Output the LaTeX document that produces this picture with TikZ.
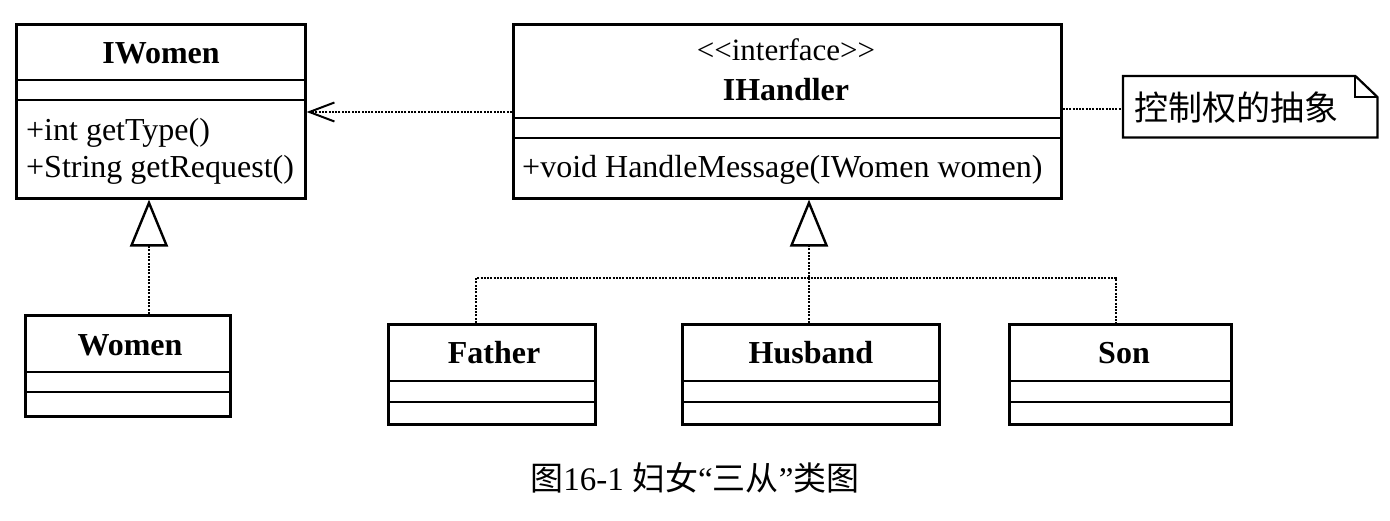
\documentclass[tikz,border=0pt]{standalone}
\usepackage{fontspec}
\setmainfont{Liberation Serif}
\newfontfamily\nolig{Liberation Serif}[Mapping=]
\newfontfamily\cjk{Noto Sans CJK SC}
\usetikzlibrary{arrows.meta}
\begin{document}
\begin{tikzpicture}[x=1pt,y=-1pt,
  cls/.style={draw, line width=2.6pt, inner sep=0pt, anchor=north west},
  divl/.style={line width=2.4pt},
  txt/.style={inner sep=0pt, font=\fontsize{32}{37}\selectfont, anchor=base west},
  cname/.style={inner sep=0pt, font=\fontsize{32}{37}\selectfont\bfseries, anchor=base},
  dep/.style={line width=2pt, dash pattern=on 2pt off 1.3pt},
  real/.style={dep, -{Triangle[open, length=47pt, width=38pt, line width=2.4pt, fill=white]}},
  use/.style={dep, -{Straight Barb[length=25pt, width=19pt, line width=2pt]}},
]
\useasboundingbox (0,0) rectangle (1390,520);
\fill[white] (0,0) rectangle (1390,520);

% IWomen
\node[cls, minimum width=289pt, minimum height=174pt] (iwomen) at (15,23) {};
\draw[divl] (iwomen.west |- 0,80) -- (iwomen.east |- 0,80);
\draw[divl] (iwomen.west |- 0,100) -- (iwomen.east |- 0,100);
\node[cname] (iwomenN) at (161,63) {IWomen};
\node[txt] (iwm1) at (26,140) {+int getType()};
\node[txt] (iwm2) at (26,177) {+String getRequest()};

% IHandler
\node[cls, minimum width=548pt, minimum height=174pt] (ihandler) at (512,23) {};
\draw[divl] (ihandler.west |- 0,118) -- (ihandler.east |- 0,118);
\draw[divl] (ihandler.west |- 0,138) -- (ihandler.east |- 0,138);
\node[inner sep=0pt, font=\nolig\fontsize{31}{37}\selectfont, anchor=base] (stereo) at (786,60) {<\kern0pt<interface>\kern0pt>};
\node[cname] (ihN) at (786,100) {IHandler};
\node[txt] (ihm) at (522,177) {+void HandleMessage(IWomen women)};

% Women
\node[cls, minimum width=205pt, minimum height=101pt] (women) at (24,314) {};
\draw[divl] (women.west |- 0,372) -- (women.east |- 0,372);
\draw[divl] (women.west |- 0,392) -- (women.east |- 0,392);
\node[cname] (womenN) at (130,355) {Women};

% Father
\node[cls, minimum width=207pt, minimum height=100pt] (father) at (387,323) {};
\draw[divl] (father.west |- 0,381) -- (father.east |- 0,381);
\draw[divl] (father.west |- 0,402) -- (father.east |- 0,402);
\node[cname] (fatherN) at (494,363) {Father};

% Husband
\node[cls, minimum width=257pt, minimum height=100pt] (husband) at (681,323) {};
\draw[divl] (husband.west |- 0,381) -- (husband.east |- 0,381);
\draw[divl] (husband.west |- 0,402) -- (husband.east |- 0,402);
\node[cname] (husbandN) at (811,363) {Husband};

% Son
\node[cls, minimum width=222pt, minimum height=100pt] (son) at (1008,323) {};
\draw[divl] (son.west |- 0,381) -- (son.east |- 0,381);
\draw[divl] (son.west |- 0,402) -- (son.east |- 0,402);
\node[cname] (sonN) at (1124,363) {Son};

% Note
\node[inner sep=0pt, minimum width=254pt, minimum height=61pt, anchor=north west] (note) at (1123,76) {};
\draw[line width=2.2pt, line join=miter]
  (note.north west) -- ([xshift=-22pt]note.north east) -- ([yshift=-21pt]note.north east)
  -- (note.south east) -- (note.south west) -- cycle;
\draw[line width=2pt] ([xshift=-22pt]note.north east) -- ([xshift=-22pt,yshift=-21pt]note.north east)
  -- ([yshift=-21pt]note.north east);
\node[inner sep=0pt, anchor=west, font=\cjk\fontsize{34}{40}\selectfont] (notetext) at (1134,108) {控制权的抽象};

% Connectors
\coordinate (ihL) at (ihandler.west |- 0,112);
\coordinate (iwR) at (iwomen.east |- 0,112);
\draw[use] (ihL) -- (iwR);

\coordinate (ihR) at (ihandler.east |- 0,109);
\coordinate (noteL) at (note.west |- 0,109);
\draw[dep] (ihR) -- (noteL);

\coordinate (wTop) at (149,314);
\draw[real] (wTop) -- (wTop |- iwomen.south);

\coordinate (fTop) at (476,323);
\coordinate (hTop) at (809,323);
\coordinate (sTop) at (1116,323);
\coordinate (junc) at (809,278);
\draw[dep] (fTop) |- (junc) -| (sTop);
\draw[real] (hTop) -- (hTop |- ihandler.south);

% Caption
\node[inner sep=0pt, anchor=base, font=\fontsize{33}{38}\selectfont] (caption) at (695,490)
  {{\cjk 图}16-1 {\cjk 妇女}“{\cjk 三从}”{\cjk 类图}};
\end{tikzpicture}
\end{document}
